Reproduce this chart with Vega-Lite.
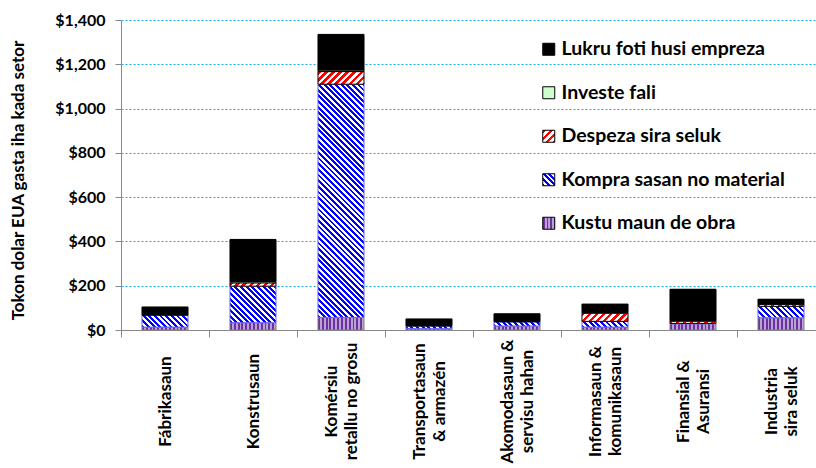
{
"$schema": "https://vega.github.io/schema/vega-lite/v6.json",
"autosize": {"type": "none"},
"padding": {"left": 121, "top": 20, "right": 0, "bottom": 138},
"width": 695,
"height": 310,
"background": "white",
"config": {"font": "Lato", "view": {"stroke": null}},
"params": [
{"name": "pstops", "value": [
{"offset":0,"color":"#7030a0"},{"offset":0.0417,"color":"#7030a0"},{"offset":0.0417,"color":"#b9a3d6"},{"offset":0.0833,"color":"#b9a3d6"},
{"offset":0.0833,"color":"#7030a0"},{"offset":0.125,"color":"#7030a0"},{"offset":0.125,"color":"#b9a3d6"},{"offset":0.1667,"color":"#b9a3d6"},
{"offset":0.1667,"color":"#7030a0"},{"offset":0.2083,"color":"#7030a0"},{"offset":0.2083,"color":"#b9a3d6"},{"offset":0.25,"color":"#b9a3d6"},
{"offset":0.25,"color":"#7030a0"},{"offset":0.2917,"color":"#7030a0"},{"offset":0.2917,"color":"#b9a3d6"},{"offset":0.3333,"color":"#b9a3d6"},
{"offset":0.3333,"color":"#7030a0"},{"offset":0.375,"color":"#7030a0"},{"offset":0.375,"color":"#b9a3d6"},{"offset":0.4167,"color":"#b9a3d6"},
{"offset":0.4167,"color":"#7030a0"},{"offset":0.4583,"color":"#7030a0"},{"offset":0.4583,"color":"#b9a3d6"},{"offset":0.5,"color":"#b9a3d6"},
{"offset":0.5,"color":"#7030a0"},{"offset":0.5417,"color":"#7030a0"},{"offset":0.5417,"color":"#b9a3d6"},{"offset":0.5833,"color":"#b9a3d6"},
{"offset":0.5833,"color":"#7030a0"},{"offset":0.625,"color":"#7030a0"},{"offset":0.625,"color":"#b9a3d6"},{"offset":0.6667,"color":"#b9a3d6"},
{"offset":0.6667,"color":"#7030a0"},{"offset":0.7083,"color":"#7030a0"},{"offset":0.7083,"color":"#b9a3d6"},{"offset":0.75,"color":"#b9a3d6"},
{"offset":0.75,"color":"#7030a0"},{"offset":0.7917,"color":"#7030a0"},{"offset":0.7917,"color":"#b9a3d6"},{"offset":0.8333,"color":"#b9a3d6"},
{"offset":0.8333,"color":"#7030a0"},{"offset":0.875,"color":"#7030a0"},{"offset":0.875,"color":"#b9a3d6"},{"offset":0.9167,"color":"#b9a3d6"},
{"offset":0.9167,"color":"#7030a0"},{"offset":0.9583,"color":"#7030a0"},{"offset":0.9583,"color":"#b9a3d6"},{"offset":1,"color":"#b9a3d6"}
]},
{"name": "rstops", "value": [
{"offset":0,"color":"#ff0000"},{"offset":0.05,"color":"#ff0000"},{"offset":0.05,"color":"#ffffff"},{"offset":0.1,"color":"#ffffff"},
{"offset":0.1,"color":"#ff0000"},{"offset":0.15,"color":"#ff0000"},{"offset":0.15,"color":"#ffffff"},{"offset":0.2,"color":"#ffffff"},
{"offset":0.2,"color":"#ff0000"},{"offset":0.25,"color":"#ff0000"},{"offset":0.25,"color":"#ffffff"},{"offset":0.3,"color":"#ffffff"},
{"offset":0.3,"color":"#ff0000"},{"offset":0.35,"color":"#ff0000"},{"offset":0.35,"color":"#ffffff"},{"offset":0.4,"color":"#ffffff"},
{"offset":0.4,"color":"#ff0000"},{"offset":0.45,"color":"#ff0000"},{"offset":0.45,"color":"#ffffff"},{"offset":0.5,"color":"#ffffff"},
{"offset":0.5,"color":"#ff0000"},{"offset":0.55,"color":"#ff0000"},{"offset":0.55,"color":"#ffffff"},{"offset":0.6,"color":"#ffffff"},
{"offset":0.6,"color":"#ff0000"},{"offset":0.65,"color":"#ff0000"},{"offset":0.65,"color":"#ffffff"},{"offset":0.7,"color":"#ffffff"},
{"offset":0.7,"color":"#ff0000"},{"offset":0.75,"color":"#ff0000"},{"offset":0.75,"color":"#ffffff"},{"offset":0.8,"color":"#ffffff"},
{"offset":0.8,"color":"#ff0000"},{"offset":0.85,"color":"#ff0000"},{"offset":0.85,"color":"#ffffff"},{"offset":0.9,"color":"#ffffff"},
{"offset":0.9,"color":"#ff0000"},{"offset":0.95,"color":"#ff0000"},{"offset":0.95,"color":"#ffffff"},{"offset":1,"color":"#ffffff"}
]},
{"name": "bstops", "value": [
{"offset":0,"color":"#0000ff"},{"offset":0.01,"color":"#0000ff"},{"offset":0.01,"color":"#ffffff"},{"offset":0.02,"color":"#ffffff"},
{"offset":0.02,"color":"#0000ff"},{"offset":0.03,"color":"#0000ff"},{"offset":0.03,"color":"#ffffff"},{"offset":0.04,"color":"#ffffff"},
{"offset":0.04,"color":"#0000ff"},{"offset":0.05,"color":"#0000ff"},{"offset":0.05,"color":"#ffffff"},{"offset":0.06,"color":"#ffffff"},
{"offset":0.06,"color":"#0000ff"},{"offset":0.07,"color":"#0000ff"},{"offset":0.07,"color":"#ffffff"},{"offset":0.08,"color":"#ffffff"},
{"offset":0.08,"color":"#0000ff"},{"offset":0.09,"color":"#0000ff"},{"offset":0.09,"color":"#ffffff"},{"offset":0.1,"color":"#ffffff"},
{"offset":0.1,"color":"#0000ff"},{"offset":0.11,"color":"#0000ff"},{"offset":0.11,"color":"#ffffff"},{"offset":0.12,"color":"#ffffff"},
{"offset":0.12,"color":"#0000ff"},{"offset":0.13,"color":"#0000ff"},{"offset":0.13,"color":"#ffffff"},{"offset":0.14,"color":"#ffffff"},
{"offset":0.14,"color":"#0000ff"},{"offset":0.15,"color":"#0000ff"},{"offset":0.15,"color":"#ffffff"},{"offset":0.16,"color":"#ffffff"},
{"offset":0.16,"color":"#0000ff"},{"offset":0.17,"color":"#0000ff"},{"offset":0.17,"color":"#ffffff"},{"offset":0.18,"color":"#ffffff"},
{"offset":0.18,"color":"#0000ff"},{"offset":0.19,"color":"#0000ff"},{"offset":0.19,"color":"#ffffff"},{"offset":0.2,"color":"#ffffff"},
{"offset":0.2,"color":"#0000ff"},{"offset":0.21,"color":"#0000ff"},{"offset":0.21,"color":"#ffffff"},{"offset":0.22,"color":"#ffffff"},
{"offset":0.22,"color":"#0000ff"},{"offset":0.23,"color":"#0000ff"},{"offset":0.23,"color":"#ffffff"},{"offset":0.24,"color":"#ffffff"},
{"offset":0.24,"color":"#0000ff"},{"offset":0.25,"color":"#0000ff"},{"offset":0.25,"color":"#ffffff"},{"offset":0.26,"color":"#ffffff"},
{"offset":0.26,"color":"#0000ff"},{"offset":0.27,"color":"#0000ff"},{"offset":0.27,"color":"#ffffff"},{"offset":0.28,"color":"#ffffff"},
{"offset":0.28,"color":"#0000ff"},{"offset":0.29,"color":"#0000ff"},{"offset":0.29,"color":"#ffffff"},{"offset":0.3,"color":"#ffffff"},
{"offset":0.3,"color":"#0000ff"},{"offset":0.31,"color":"#0000ff"},{"offset":0.31,"color":"#ffffff"},{"offset":0.32,"color":"#ffffff"},
{"offset":0.32,"color":"#0000ff"},{"offset":0.33,"color":"#0000ff"},{"offset":0.33,"color":"#ffffff"},{"offset":0.34,"color":"#ffffff"},
{"offset":0.34,"color":"#0000ff"},{"offset":0.35,"color":"#0000ff"},{"offset":0.35,"color":"#ffffff"},{"offset":0.36,"color":"#ffffff"},
{"offset":0.36,"color":"#0000ff"},{"offset":0.37,"color":"#0000ff"},{"offset":0.37,"color":"#ffffff"},{"offset":0.38,"color":"#ffffff"},
{"offset":0.38,"color":"#0000ff"},{"offset":0.39,"color":"#0000ff"},{"offset":0.39,"color":"#ffffff"},{"offset":0.4,"color":"#ffffff"},
{"offset":0.4,"color":"#0000ff"},{"offset":0.41,"color":"#0000ff"},{"offset":0.41,"color":"#ffffff"},{"offset":0.42,"color":"#ffffff"},
{"offset":0.42,"color":"#0000ff"},{"offset":0.43,"color":"#0000ff"},{"offset":0.43,"color":"#ffffff"},{"offset":0.44,"color":"#ffffff"},
{"offset":0.44,"color":"#0000ff"},{"offset":0.45,"color":"#0000ff"},{"offset":0.45,"color":"#ffffff"},{"offset":0.46,"color":"#ffffff"},
{"offset":0.46,"color":"#0000ff"},{"offset":0.47,"color":"#0000ff"},{"offset":0.47,"color":"#ffffff"},{"offset":0.48,"color":"#ffffff"},
{"offset":0.48,"color":"#0000ff"},{"offset":0.49,"color":"#0000ff"},{"offset":0.49,"color":"#ffffff"},{"offset":0.5,"color":"#ffffff"},
{"offset":0.5,"color":"#0000ff"},{"offset":0.51,"color":"#0000ff"},{"offset":0.51,"color":"#ffffff"},{"offset":0.52,"color":"#ffffff"},
{"offset":0.52,"color":"#0000ff"},{"offset":0.53,"color":"#0000ff"},{"offset":0.53,"color":"#ffffff"},{"offset":0.54,"color":"#ffffff"},
{"offset":0.54,"color":"#0000ff"},{"offset":0.55,"color":"#0000ff"},{"offset":0.55,"color":"#ffffff"},{"offset":0.56,"color":"#ffffff"},
{"offset":0.56,"color":"#0000ff"},{"offset":0.57,"color":"#0000ff"},{"offset":0.57,"color":"#ffffff"},{"offset":0.58,"color":"#ffffff"},
{"offset":0.58,"color":"#0000ff"},{"offset":0.59,"color":"#0000ff"},{"offset":0.59,"color":"#ffffff"},{"offset":0.6,"color":"#ffffff"},
{"offset":0.6,"color":"#0000ff"},{"offset":0.61,"color":"#0000ff"},{"offset":0.61,"color":"#ffffff"},{"offset":0.62,"color":"#ffffff"},
{"offset":0.62,"color":"#0000ff"},{"offset":0.63,"color":"#0000ff"},{"offset":0.63,"color":"#ffffff"},{"offset":0.64,"color":"#ffffff"},
{"offset":0.64,"color":"#0000ff"},{"offset":0.65,"color":"#0000ff"},{"offset":0.65,"color":"#ffffff"},{"offset":0.66,"color":"#ffffff"},
{"offset":0.66,"color":"#0000ff"},{"offset":0.67,"color":"#0000ff"},{"offset":0.67,"color":"#ffffff"},{"offset":0.68,"color":"#ffffff"},
{"offset":0.68,"color":"#0000ff"},{"offset":0.69,"color":"#0000ff"},{"offset":0.69,"color":"#ffffff"},{"offset":0.7,"color":"#ffffff"},
{"offset":0.7,"color":"#0000ff"},{"offset":0.71,"color":"#0000ff"},{"offset":0.71,"color":"#ffffff"},{"offset":0.72,"color":"#ffffff"},
{"offset":0.72,"color":"#0000ff"},{"offset":0.73,"color":"#0000ff"},{"offset":0.73,"color":"#ffffff"},{"offset":0.74,"color":"#ffffff"},
{"offset":0.74,"color":"#0000ff"},{"offset":0.75,"color":"#0000ff"},{"offset":0.75,"color":"#ffffff"},{"offset":0.76,"color":"#ffffff"},
{"offset":0.76,"color":"#0000ff"},{"offset":0.77,"color":"#0000ff"},{"offset":0.77,"color":"#ffffff"},{"offset":0.78,"color":"#ffffff"},
{"offset":0.78,"color":"#0000ff"},{"offset":0.79,"color":"#0000ff"},{"offset":0.79,"color":"#ffffff"},{"offset":0.8,"color":"#ffffff"},
{"offset":0.8,"color":"#0000ff"},{"offset":0.81,"color":"#0000ff"},{"offset":0.81,"color":"#ffffff"},{"offset":0.82,"color":"#ffffff"},
{"offset":0.82,"color":"#0000ff"},{"offset":0.83,"color":"#0000ff"},{"offset":0.83,"color":"#ffffff"},{"offset":0.84,"color":"#ffffff"},
{"offset":0.84,"color":"#0000ff"},{"offset":0.85,"color":"#0000ff"},{"offset":0.85,"color":"#ffffff"},{"offset":0.86,"color":"#ffffff"},
{"offset":0.86,"color":"#0000ff"},{"offset":0.87,"color":"#0000ff"},{"offset":0.87,"color":"#ffffff"},{"offset":0.88,"color":"#ffffff"},
{"offset":0.88,"color":"#0000ff"},{"offset":0.89,"color":"#0000ff"},{"offset":0.89,"color":"#ffffff"},{"offset":0.9,"color":"#ffffff"},
{"offset":0.9,"color":"#0000ff"},{"offset":0.91,"color":"#0000ff"},{"offset":0.91,"color":"#ffffff"},{"offset":0.92,"color":"#ffffff"},
{"offset":0.92,"color":"#0000ff"},{"offset":0.93,"color":"#0000ff"},{"offset":0.93,"color":"#ffffff"},{"offset":0.94,"color":"#ffffff"},
{"offset":0.94,"color":"#0000ff"},{"offset":0.95,"color":"#0000ff"},{"offset":0.95,"color":"#ffffff"},{"offset":0.96,"color":"#ffffff"},
{"offset":0.96,"color":"#0000ff"},{"offset":0.97,"color":"#0000ff"},{"offset":0.97,"color":"#ffffff"},{"offset":0.98,"color":"#ffffff"},
{"offset":0.98,"color":"#0000ff"},{"offset":0.99,"color":"#0000ff"},{"offset":0.99,"color":"#ffffff"},{"offset":1,"color":"#ffffff"}
]}
],
"data": {"values": [
{"sector": "Fábrikasaun", "series": "Kustu maun de obra", "value": 13},
{"sector": "Fábrikasaun", "series": "Kompra sasan no material", "value": 55},
{"sector": "Fábrikasaun", "series": "Despeza sira seluk", "value": 1},
{"sector": "Fábrikasaun", "series": "Investe fali", "value": 0},
{"sector": "Fábrikasaun", "series": "Lukru foti husi empreza", "value": 35},
{"sector": "Konstrusaun", "series": "Kustu maun de obra", "value": 33},
{"sector": "Konstrusaun", "series": "Kompra sasan no material", "value": 165},
{"sector": "Konstrusaun", "series": "Despeza sira seluk", "value": 15},
{"sector": "Konstrusaun", "series": "Investe fali", "value": 6},
{"sector": "Konstrusaun", "series": "Lukru foti husi empreza", "value": 190},
{"sector": "Komérsiu\nretallu no grosu", "series": "Kustu maun de obra", "value": 57},
{"sector": "Komérsiu\nretallu no grosu", "series": "Kompra sasan no material", "value": 1053},
{"sector": "Komérsiu\nretallu no grosu", "series": "Despeza sira seluk", "value": 57},
{"sector": "Komérsiu\nretallu no grosu", "series": "Investe fali", "value": 7},
{"sector": "Komérsiu\nretallu no grosu", "series": "Lukru foti husi empreza", "value": 161},
{"sector": "Transportasaun\n& armazén", "series": "Kustu maun de obra", "value": 6},
{"sector": "Transportasaun\n& armazén", "series": "Kompra sasan no material", "value": 12},
{"sector": "Transportasaun\n& armazén", "series": "Despeza sira seluk", "value": 2},
{"sector": "Transportasaun\n& armazén", "series": "Investe fali", "value": 1},
{"sector": "Transportasaun\n& armazén", "series": "Lukru foti husi empreza", "value": 29},
{"sector": "Akomodasaun &\nservisu hahan", "series": "Kustu maun de obra", "value": 18},
{"sector": "Akomodasaun &\nservisu hahan", "series": "Kompra sasan no material", "value": 19},
{"sector": "Akomodasaun &\nservisu hahan", "series": "Despeza sira seluk", "value": 1},
{"sector": "Akomodasaun &\nservisu hahan", "series": "Investe fali", "value": 1},
{"sector": "Akomodasaun &\nservisu hahan", "series": "Lukru foti husi empreza", "value": 34},
{"sector": "Informasaun &\nkomunikasaun", "series": "Kustu maun de obra", "value": 13},
{"sector": "Informasaun &\nkomunikasaun", "series": "Kompra sasan no material", "value": 26},
{"sector": "Informasaun &\nkomunikasaun", "series": "Despeza sira seluk", "value": 37},
{"sector": "Informasaun &\nkomunikasaun", "series": "Investe fali", "value": 3},
{"sector": "Informasaun &\nkomunikasaun", "series": "Lukru foti husi empreza", "value": 38},
{"sector": "Finansial &\nAsuransi", "series": "Kustu maun de obra", "value": 28},
{"sector": "Finansial &\nAsuransi", "series": "Kompra sasan no material", "value": 2},
{"sector": "Finansial &\nAsuransi", "series": "Despeza sira seluk", "value": 10},
{"sector": "Finansial &\nAsuransi", "series": "Investe fali", "value": 3},
{"sector": "Finansial &\nAsuransi", "series": "Lukru foti husi empreza", "value": 141},
{"sector": "Industria\nsira seluk", "series": "Kustu maun de obra", "value": 55},
{"sector": "Industria\nsira seluk", "series": "Kompra sasan no material", "value": 52},
{"sector": "Industria\nsira seluk", "series": "Despeza sira seluk", "value": 9},
{"sector": "Industria\nsira seluk", "series": "Investe fali", "value": 3},
{"sector": "Industria\nsira seluk", "series": "Lukru foti husi empreza", "value": 20}
]},
"transform": [{"stack": "value", "groupby": ["sector"], "as": ["v0", "v1"]}],
"encoding": {
"x": {"field": "sector", "type": "nominal", "sort": null,
 "scale": {"range": [0, 704], "paddingInner": 0.477, "paddingOuter": 0.2385},
 "axis": {"title": null, "labelAngle": 270, "labelAlign": "center", "labelBaseline": "middle", "labelFont": "Lato", "labelFontSize": 17, "labelFontWeight": "bold", "labelColor": "#000000", "labelLineHeight": 20, "labelPadding": 64,
  "labelOffset": {"condition": {"test": "indexof(datum.value, '\\n') >= 0", "value": 34}, "value": 44},
  "labelFlush": false, "labelExpr": "split(datum.label, '\\n')", "labelOverlap": false, "labelLimit": 0, "labelBound": false, "tickSize": 7, "tickOffset": -44, "tickColor": "#888888", "domainColor": "#888888", "grid": false}},
"y": {"field": "v1", "type": "quantitative", "scale": {"domain": [0, 1400], "nice": false},
 "axis": {"values": [0, 200, 400, 600, 800, 1000, 1200, 1400], "format": "$,.0f", "title": "Tokon dolar EUA gasta iha kada setor", "titleFont": "Lato", "titleFontSize": 17, "titleFontWeight": "bold", "titleColor": "#000000", "titleAngle": 270, "titleX": -103, "titleY": 160, "titleAlign": "center", "titleBaseline": "middle", "labelFont": "Lato", "labelFontSize": 16, "labelFontWeight": "bold", "labelColor": "#000000", "labelPadding": 10, "tickSize": 6, "tickColor": "#888888", "domainColor": "#888888", "grid": true, "gridColor": "#20a8e8", "gridDash": [2, 2], "gridWidth": 1}},
"y2": {"field": "v0"}
},
"layer": [
{"mark": {"type": "bar"},
 "encoding": {"color": {"field": "series", "type": "nominal",
  "scale": {"domain": ["Lukru foti husi empreza", "Investe fali", "Despeza sira seluk", "Kompra sasan no material", "Kustu maun de obra"],
   "range": ["#000000", "#ccffcc",
    {"expr": "{gradient: 'linear', x1: 0, y1: 0, x2: 2.946, y2: 2.946, stops: rstops}"},
    {"expr": "{gradient: 'linear', x1: 0, y1: 1, x2: 11.785, y2: -10.785, stops: bstops}"},
    {"expr": "{gradient: 'linear', x1: 0, y1: 0, x2: 3.833, y2: 0, stops: pstops}"}]},
  "legend": {"title": null, "orient": "none", "legendX": 418, "legendY": 19.5, "padding": 0, "labelFont": "Lato", "labelFontSize": 19.5, "labelFontWeight": "bold", "labelColor": "#000000", "labelOffset": 3, "labelLimit": 0, "symbolType": "square", "symbolSize": 144, "symbolStrokeWidth": 1, "symbolStrokeColor": "#000000", "symbolOpacity": 1, "rowPadding": 22.5}}}},
{"mark": {"type": "bar",
  "fill": {"expr": "datum.series == 'Kustu maun de obra' ? {gradient: 'linear', x1: 0, y1: 0, x2: 1, y2: 0, stops: pstops} : datum.series == 'Kompra sasan no material' ? {gradient: 'linear', x1: 0, y1: 1, x2: 13010.8 / (2116 + pow((datum.v1 - datum.v0) * 310 / 1400, 2)), y2: 1 - 282.843 * ((datum.v1 - datum.v0) * 310 / 1400) / (2116 + pow((datum.v1 - datum.v0) * 310 / 1400, 2)), stops: bstops} : datum.series == 'Despeza sira seluk' ? {gradient: 'linear', x1: 0, y1: 0, x2: 3252.7 / (2116 + pow((datum.v1 - datum.v0) * 310 / 1400, 2)), y2: 70.711 * ((datum.v1 - datum.v0) * 310 / 1400) / (2116 + pow((datum.v1 - datum.v0) * 310 / 1400, 2)), stops: rstops} : datum.series == 'Investe fali' ? '#ccffcc' : '#000000'"},
  "stroke": {"expr": "datum.series == 'Kustu maun de obra' ? '#808080' : datum.series == 'Kompra sasan no material' ? '#6666ff' : '#000000'"},
  "strokeWidth": 1}}
]
}
